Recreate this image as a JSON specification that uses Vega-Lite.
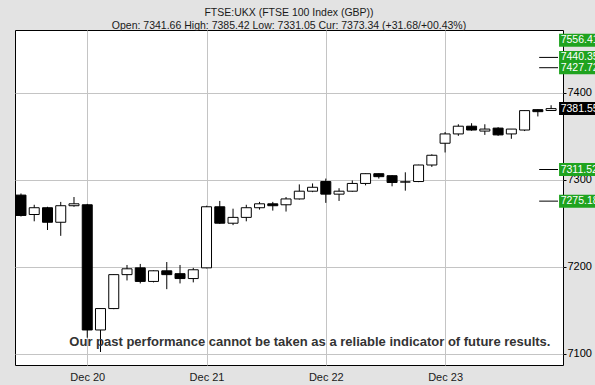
{
  "$schema": "https://vega.github.io/schema/vega-lite/v6.json",
  "width": 548,
  "height": 335,
  "autosize": {"type": "none"},
  "padding": {"left": 15, "top": 30, "right": 32, "bottom": 20},
  "background": "#e3e3e3",
  "config": {
    "view": {"stroke": "#000000", "strokeWidth": 1, "fill": "#ffffff"},
    "font": "Liberation Sans"
  },
  "title": {
    "text": ["FTSE:UKX (FTSE 100 Index (GBP))", "Open: 7341.66 High: 7385.42 Low: 7331.05 Cur: 7373.34 (+31.68/+00.43%)"],
    "fontSize": 10.5,
    "fontWeight": "normal",
    "color": "#1a1a1a",
    "font": "Liberation Sans",
    "anchor": "middle",
    "offset": -1,
    "lineHeight": 13
  },
  "datasets": {
    "candles": [
      {"i": 0, "open": 7282.1, "high": 7284.0, "low": 7257.5, "close": 7258.7},
      {"i": 1, "open": 7259.8, "high": 7271.0, "low": 7252.0, "close": 7267.6},
      {"i": 2, "open": 7267.6, "high": 7268.7, "low": 7242.0, "close": 7250.9},
      {"i": 3, "open": 7250.9, "high": 7274.3, "low": 7235.3, "close": 7269.9},
      {"i": 4, "open": 7269.9, "high": 7279.9, "low": 7268.7, "close": 7272.1},
      {"i": 5, "open": 7271.0, "high": 7272.0, "low": 7118.2, "close": 7127.1},
      {"i": 6, "open": 7127.1, "high": 7151.7, "low": 7101.8, "close": 7151.7},
      {"i": 7, "open": 7151.7, "high": 7191.0, "low": 7151.0, "close": 7190.7},
      {"i": 8, "open": 7190.7, "high": 7201.8, "low": 7184.0, "close": 7197.4},
      {"i": 9, "open": 7198.5, "high": 7203.0, "low": 7180.6, "close": 7182.9},
      {"i": 10, "open": 7182.9, "high": 7195.5, "low": 7181.8, "close": 7195.1},
      {"i": 11, "open": 7195.1, "high": 7205.2, "low": 7174.0, "close": 7190.7},
      {"i": 12, "open": 7191.8, "high": 7201.8, "low": 7180.6, "close": 7186.2},
      {"i": 13, "open": 7186.2, "high": 7198.5, "low": 7181.8, "close": 7196.3},
      {"i": 14, "open": 7198.5, "high": 7269.9, "low": 7198.0, "close": 7268.7},
      {"i": 15, "open": 7268.7, "high": 7275.4, "low": 7249.0, "close": 7249.8},
      {"i": 16, "open": 7249.8, "high": 7266.5, "low": 7247.6, "close": 7256.5},
      {"i": 17, "open": 7256.5, "high": 7271.0, "low": 7252.0, "close": 7267.6},
      {"i": 18, "open": 7267.6, "high": 7274.3, "low": 7265.4, "close": 7272.1},
      {"i": 19, "open": 7272.1, "high": 7274.3, "low": 7264.3, "close": 7269.9},
      {"i": 20, "open": 7271.0, "high": 7279.9, "low": 7263.2, "close": 7277.7},
      {"i": 21, "open": 7277.7, "high": 7294.4, "low": 7277.0, "close": 7286.6},
      {"i": 22, "open": 7286.6, "high": 7295.5, "low": 7285.5, "close": 7291.1},
      {"i": 23, "open": 7297.7, "high": 7301.1, "low": 7273.2, "close": 7283.2},
      {"i": 24, "open": 7283.2, "high": 7290.0, "low": 7275.4, "close": 7286.6},
      {"i": 25, "open": 7286.6, "high": 7298.9, "low": 7286.0, "close": 7295.5},
      {"i": 26, "open": 7295.5, "high": 7307.0, "low": 7293.3, "close": 7306.7},
      {"i": 27, "open": 7306.7, "high": 7307.0, "low": 7301.1, "close": 7303.3},
      {"i": 28, "open": 7304.4, "high": 7305.0, "low": 7292.2, "close": 7296.6},
      {"i": 29, "open": 7297.2, "high": 7308.3, "low": 7287.2, "close": 7297.2},
      {"i": 30, "open": 7297.7, "high": 7317.0, "low": 7297.0, "close": 7316.7},
      {"i": 31, "open": 7316.7, "high": 7329.0, "low": 7314.5, "close": 7327.9},
      {"i": 32, "open": 7341.7, "high": 7354.6, "low": 7331.1, "close": 7352.4},
      {"i": 33, "open": 7352.4, "high": 7363.5, "low": 7350.2, "close": 7361.3},
      {"i": 34, "open": 7361.3, "high": 7364.7, "low": 7356.0, "close": 7356.9},
      {"i": 35, "open": 7355.7, "high": 7363.5, "low": 7351.3, "close": 7358.0},
      {"i": 36, "open": 7359.1, "high": 7360.2, "low": 7350.2, "close": 7351.3},
      {"i": 37, "open": 7352.4, "high": 7358.0, "low": 7346.8, "close": 7358.0},
      {"i": 38, "open": 7356.9, "high": 7379.5, "low": 7355.7, "close": 7379.2},
      {"i": 39, "open": 7380.3, "high": 7380.5, "low": 7372.5, "close": 7378.0},
      {"i": 40, "open": 7379.3, "high": 7385.4, "low": 7379.0, "close": 7381.5}
    ],
    "levels": [
      {"label": "7556.41", "level": 7556.41, "kind": "target"},
      {"label": "7440.35", "level": 7440.35, "kind": "target"},
      {"label": "7427.72", "level": 7428.5, "kind": "target"},
      {"label": "7381.55", "level": 7381.55, "kind": "current"},
      {"label": "7311.52", "level": 7311.52, "kind": "target"},
      {"label": "7275.18", "level": 7275.18, "kind": "target"}
    ]
  },
  "layer": [
    {
      "data": {"name": "candles"},
      "mark": {"type": "rule", "color": "#000000", "strokeWidth": 1, "clip": true},
      "encoding": {
        "x": {
          "field": "i", "type": "quantitative",
          "scale": {"domain": [-0.074, 40.52], "nice": false, "zero": false},
          "axis": {
            "values": [5, 14, 23, 32],
            "labelExpr": "datum.value == 5 ? 'Dec 20' : datum.value == 14 ? 'Dec 21' : datum.value == 23 ? 'Dec 22' : 'Dec 23'",
            "grid": true, "gridColor": "#c4c4c4", "ticks": false, "domain": false,
            "labelFontSize": 11, "labelColor": "#1a1a1a", "labelPadding": 6, "title": null
          }
        },
        "y": {
          "field": "low", "type": "quantitative",
          "scale": {"domain": [7092.6, 7466.1], "nice": false, "zero": false},
          "axis": {
            "orient": "right", "values": [7100, 7200, 7300, 7400], "format": "d",
            "grid": true, "gridColor": "#c4c4c4", "domain": false, "tickColor": "#000000",
            "tickSize": 3, "labelPadding": 1, "labelFontSize": 11, "labelColor": "#000000", "title": null
          }
        },
        "y2": {"field": "high"}
      }
    },
    {
      "data": {"name": "candles"},
      "mark": {"type": "bar", "width": 10, "stroke": "#000000", "strokeWidth": 1, "clip": true},
      "encoding": {
        "x": {"field": "i", "type": "quantitative"},
        "y": {"field": "open", "type": "quantitative"},
        "y2": {"field": "close"},
        "fill": {"condition": {"test": "datum.close >= datum.open", "value": "#ffffff"}, "value": "#000000"}
      }
    },
    {
      "data": {"name": "levels"},
      "transform": [{"filter": "datum.kind == 'target' && datum.level < 7460"}],
      "mark": {"type": "rule", "color": "#000000", "strokeWidth": 1},
      "encoding": {
        "x": {"datum": 39.1},
        "x2": {"datum": 40.52},
        "y": {"field": "level", "type": "quantitative"}
      }
    },
    {
      "data": {"name": "levels"},
      "transform": [{"calculate": "min(datum.level, 7460)", "as": "shown"}],
      "mark": {"type": "bar", "height": 13},
      "encoding": {
        "x": {"datum": 40.6},
        "x2": {"datum": 43.6},
        "y": {"field": "shown", "type": "quantitative"},
        "fill": {"field": "kind", "type": "nominal", "scale": {"domain": ["target", "current"], "range": ["#1fa31f", "#000000"]}, "legend": null}
      }
    },
    {
      "data": {"name": "levels"},
      "transform": [{"calculate": "min(datum.level, 7460)", "as": "shown"}],
      "mark": {"type": "text", "align": "left", "baseline": "middle", "color": "#ffffff", "fontSize": 10.5, "font": "Liberation Sans"},
      "encoding": {
        "x": {"datum": 40.72},
        "y": {"field": "shown", "type": "quantitative"},
        "text": {"field": "label"}
      }
    },
    {
      "data": {"values": [{}]},
      "mark": {"type": "text", "align": "center", "baseline": "middle", "color": "#333333", "fontSize": 13, "fontWeight": "bold", "font": "Liberation Sans"},
      "encoding": {
        "x": {"datum": 21.8},
        "y": {"datum": 7113.7},
        "text": {"value": "Our past performance cannot be taken as a reliable indicator of future results."}
      }
    }
  ]
}
